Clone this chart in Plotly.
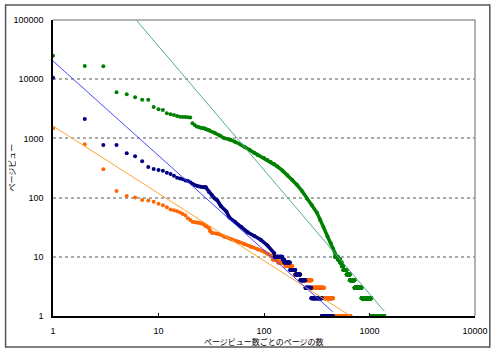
import plotly.graph_objects as go

# ---------------- axis ticks ----------------
x_tickvals = [1, 10, 100, 1000, 10000]
x_ticktext = ["1", "10", "100", "1000", "10000"]
y_tickvals = [1, 10, 100, 1000, 10000, 100000]
y_ticktext = ["1", "10", "100", "1000", "10000", "100000"]

x_title = "ページビュー数ごとのページの数"
y_title = "ページビュー"

# ---------------- green series ----------------
green_head = [25000, 16700, 16600, 6000, 5560, 4950, 4500, 4500, 3400, 3100,
              3020, 2650, 2550, 2480, 2390, 2330, 2300, 2300, 2280, 2250,
              1800, 1680, 1590, 1560, 1520, 1500, 1480, 1440]
green_dense_x = [28, 30, 34, 38, 42, 48, 53, 60, 66, 73, 81, 87, 100, 108, 116, 125,
                 134, 150, 166, 185, 206, 230, 255, 285, 317, 341, 366, 400, 430, 450, 471]
green_dense_y = [1440, 1380, 1240, 1120, 1010, 950, 880, 790, 710, 640, 565, 524, 465, 432, 400, 370,
                 335, 285, 241, 200, 163, 128, 97, 74, 56, 42, 32, 22, 17, 14, 11.5]
green_run_value = [10, 9, 8, 7, 6, 5, 4, 3, 2, 1]
green_run_start = [472, 501, 526, 546, 565, 607, 651, 721, 841, 1041]
green_run_end = [500, 525, 545, 564, 606, 650, 720, 840, 1040, 1380]
green_trend = (4.47e6, -2.092)

# ---------------- navy series ----------------
navy_head = [10600, 2130, 774, 774, 560, 500, 410, 329, 304, 293,
             285, 263, 250, 235, 217, 210, 204, 195, 190, 181,
             172, 163, 158, 155, 153, 151, 150, 149]
navy_dense_x = [28, 30, 32, 34, 36, 39, 44, 47, 53, 61, 70, 81, 93, 108, 125]
navy_dense_y = [149, 126, 111, 97, 90, 72, 58, 46, 39, 32, 26, 22.5, 19.5, 15.5, 11.5]
navy_run_value = [10, 9, 8, 6, 5, 4, 3, 2, 1]
navy_run_start = [126, 150, 156, 177, 199, 221, 247, 281, 354]
navy_run_end = [149, 155, 176, 198, 220, 246, 280, 353, 448]
navy_trend = (20300, -1.598)

# ---------------- orange series ----------------
orange_head = [1480, 795, 301, 129, 106, 100, 91, 89, 85, 79,
               74, 69, 63, 61, 59, 56, 53, 50, 45, 42,
               39, 38.5, 38, 37.5, 37, 36, 35, 33]
orange_dense_x = [28, 30, 31, 32, 37, 42, 49, 57, 65, 75, 87, 100, 110, 120]
orange_dense_y = [33, 31, 27, 25.5, 24.3, 21.9, 19.8, 18, 16.5, 14.8, 13.4, 12.2, 11, 10.3]
orange_run_value = [9, 8, 7, 6, 5, 4, 3, 2, 1]
orange_run_start = [121, 136, 159, 186, 196, 222, 283, 371, 451]
orange_run_end = [135, 158, 185, 195, 221, 282, 370, 450, 660]
orange_trend = (1620, -1.138)

series = [
    dict(name="orange", color="#ff6600", tcolor="#ffa436", head=orange_head,
         dx=orange_dense_x, dy=orange_dense_y, rv=orange_run_value,
         rs=orange_run_start, re=orange_run_end, trend=orange_trend),
    dict(name="navy", color="#000080", tcolor="#4848ff", head=navy_head,
         dx=navy_dense_x, dy=navy_dense_y, rv=navy_run_value,
         rs=navy_run_start, re=navy_run_end, trend=navy_trend),
    dict(name="green", color="#008000", tcolor="#52ad8a", head=green_head,
         dx=green_dense_x, dy=green_dense_y, rv=green_run_value,
         rs=green_run_start, re=green_run_end, trend=green_trend),
]

fig = go.Figure()

for s in series:
    # individual points
    xs = list(range(1, len(s["head"]) + 1))
    ys = list(s["head"])
    for v, a, b in zip(s["rv"], s["rs"], s["re"]):
        for r in range(a, b + 1):
            xs.append(r)
            ys.append(v)
    fig.add_trace(go.Scatter(x=xs, y=ys, mode="markers",
                             marker=dict(color=s["color"], size=4, line=dict(width=0)),
                             showlegend=False, hoverinfo="skip"))
    # dense part (points merge into a band)
    fig.add_trace(go.Scatter(x=s["dx"], y=s["dy"], mode="lines+markers",
                             line=dict(color=s["color"], width=3.5),
                             marker=dict(color=s["color"], size=4),
                             showlegend=False, hoverinfo="skip"))

for s in series:
    a, b = s["trend"]
    xmax = s["re"][-1]
    tx = [1, xmax]
    ty = [a * x ** b for x in tx]
    fig.add_trace(go.Scatter(x=tx, y=ty, mode="lines",
                             line=dict(color=s["tcolor"], width=1),
                             showlegend=False, hoverinfo="skip"))

tick_font = dict(family="Liberation Sans, Arial, sans-serif", size=9, color="#000000")

fig.update_layout(
    width=500, height=352,
    margin=dict(l=53, r=20, t=20, b=36, pad=0),
    paper_bgcolor="white", plot_bgcolor="white",
    showlegend=False,
    xaxis=dict(type="log", range=[0, 4], tickvals=x_tickvals, ticktext=x_ticktext,
               showgrid=False, zeroline=False, showline=True, linecolor="#000000",
               linewidth=1.5, ticks="inside", ticklen=3, tickcolor="#000000",
               tickfont=tick_font, ticklabelstandoff=5),
    yaxis=dict(type="log", range=[0, 5], tickvals=y_tickvals, ticktext=y_ticktext,
               showgrid=True, gridcolor="#aaaaaa", gridwidth=1.5, griddash="3px,3px",
               zeroline=False, showline=True, linecolor="#000000", linewidth=1.5,
               ticks="", tickfont=tick_font, ticklabelstandoff=6),
    shapes=[
        dict(type="path", xref="paper", yref="paper", path="M 0 1 L 1 1 L 1 0",
             line=dict(color="#9a9a9a", width=1.5), layer="above"),
        dict(type="rect", xref="paper", yref="paper",
             x0=-0.1124, x1=1.0351, y0=-0.1047, y1=1.0507,
             line=dict(color="#555555", width=1.5), layer="above"),
    ],
    annotations=[
        dict(text=x_title, xref="paper", yref="paper", x=0.5, y=-0.087,
             showarrow=False, xanchor="center", yanchor="middle",
             font=dict(family="Noto Sans CJK JP", size=8, color="#000000")),
        dict(text=y_title, xref="paper", yref="paper", x=-0.1007, y=0.5,
             showarrow=False, xanchor="center", yanchor="middle", textangle=-90,
             font=dict(family="Noto Sans CJK JP", size=8, color="#000000")),
    ],
)

fig.write_html("out.html")
